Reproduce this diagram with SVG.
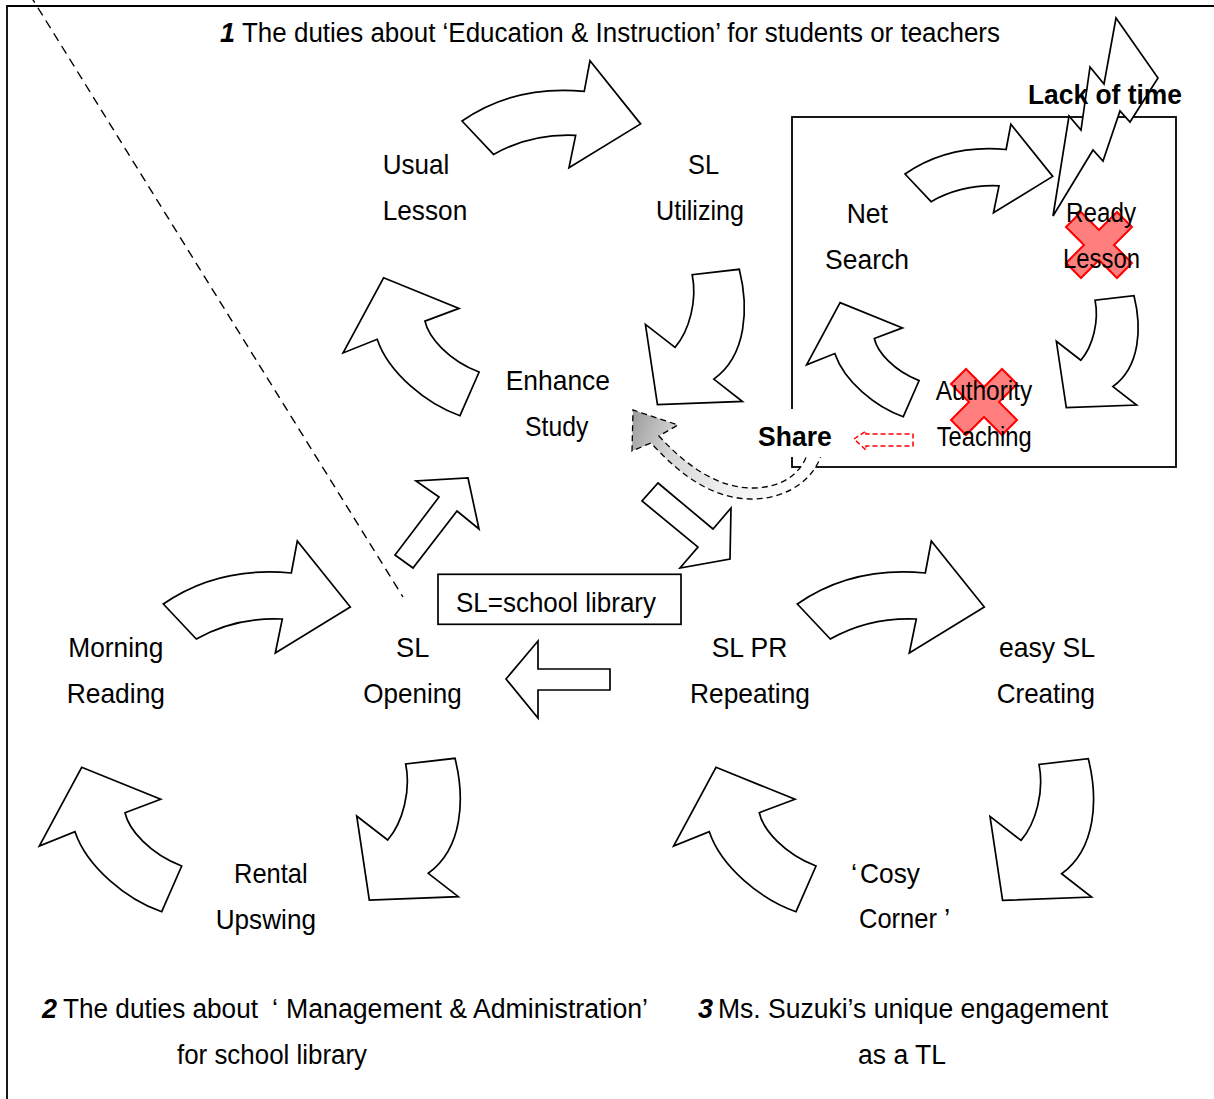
<svg xmlns="http://www.w3.org/2000/svg" width="1214" height="1099" viewBox="0 0 1214 1099">
  <style>
    text { font-family: "Liberation Sans", Arial, sans-serif; font-size: 28px; fill: #000; }
    .sm { font-size: 27px; }
    .b { font-weight: bold; }
    .bi { font-weight: bold; font-style: italic; }
    .arrow { fill: #fff; stroke: #000; stroke-width: 1.7; stroke-linejoin: miter; vector-effect: non-scaling-stroke; }
    .block { fill: #fff; stroke: #000; stroke-width: 1.7; stroke-linejoin: miter; }
    .cross { fill: #ff0000; fill-opacity: 0.5; stroke: #ff0000; stroke-width: 2; }
  </style>
  <defs>
    <!-- curved block arrow, top of each cycle, pointing right -->
    <path id="arcRight" class="arrow" d="M0,0 Q55,-38 128,-31 L134,-63 L187,3 L112,49 L119,15 Q72,13 33,35 Z"/>
    <!-- curved block arrow, right of each cycle, pointing down-left -->
    <path id="arcDown" class="arrow" d="M0,0 C10,40 8,90 -26.7,115 L3.3,138.4 L-85.7,141.7 L-98.3,57.7 L-67.3,81.7 C-52,64 -44,32 -49.3,5.7 Z"/>
    <!-- curved block arrow, left of each cycle, pointing up-left -->
    <path id="arcUp" class="arrow" d="M0,0 C-35,-12 -75,-45 -86.7,-80 L-122.4,-65.7 L-80,-144.4 L-1,-112.4 L-36.7,-99 C-33,-82 -12,-58 20,-45.7 Z"/>
    <!-- red cancel mark -->
    <polygon id="cross" class="cross" points="0,-15 18,-33 33,-18 15,0 33,18 18,33 0,15 -18,33 -33,18 -15,0 -33,-18 -18,-33"/>
    <linearGradient id="shareFill" gradientUnits="userSpaceOnUse" x1="635" y1="415" x2="805" y2="480">
      <stop offset="0" stop-color="#a0a0a0"/>
      <stop offset="0.25" stop-color="#d6d6d6"/>
      <stop offset="0.6" stop-color="#efefef"/>
      <stop offset="1" stop-color="#ffffff"/>
    </linearGradient>
  </defs>

  <rect width="1214" height="1099" fill="#fff"/>

  <!-- page frame and separating diagonal -->
  <g id="frame" fill="none" stroke="#000">
    <line x1="7" y1="6" x2="1214" y2="6" stroke-width="1.8"/>
    <line x1="7" y1="5" x2="7" y2="1099" stroke-width="1.8"/>
    <line x1="30" y1="-5" x2="403" y2="597" stroke-width="1.4" stroke-dasharray="9 6"/>
  </g>

  <!-- sub-cycle box -->
  <rect id="subcycle-box" x="792" y="117" width="384" height="350" fill="none" stroke="#000" stroke-width="1.8"/>

  <g id="connectors">
    <!-- cycle 1 -->
    <use href="#arcRight" transform="translate(462,121) scale(0.955)"/>
    <use href="#arcDown" transform="translate(739.3,269.3) scale(0.955)"/>
    <use href="#arcUp" transform="translate(460,415.7) scale(0.955)"/>
    <!-- inner cycle in the box -->
    <use href="#arcRight" transform="translate(905,174) scale(0.79)"/>
    <use href="#arcDown" transform="translate(1134,295.7) scale(0.79)"/>
    <use href="#arcUp" transform="translate(903.3,416.7) scale(0.79)"/>
    <!-- cycle 2 -->
    <use href="#arcRight" transform="translate(163.3,604)"/>
    <use href="#arcDown" transform="translate(455,758.3)"/>
    <use href="#arcUp" transform="translate(161.7,911.7)"/>
    <!-- cycle 3 -->
    <use href="#arcRight" transform="translate(797.3,604)"/>
    <use href="#arcDown" transform="translate(1088.3,758.7)"/>
    <use href="#arcUp" transform="translate(796,911.7)"/>
    <!-- straight block arrows between the cycles -->
    <polygon class="block" points="468,478 479,529 457,511 413,568 395,555 439,497 416,481"/>
    <polygon class="block" points="658,483 713,529 731,508 730,559 680,568 698,547 642,501"/>
    <polygon class="block" points="506,679 538,641 538,669 610,669 610,690 538,690 538,718"/>
    <!-- dashed share arrow back to Enhance Study -->
    <path d="M822,452 C815,480 785,500 750,499 C715,498 685,480 651,443 L632,451 L633,410 L678,425 L659,436 C688,468 720,488 752,488 C780,488 800,475 807,455 Z" fill="url(#shareFill)" stroke="#000" stroke-width="1.3" stroke-dasharray="6 4"/>
    <!-- small red dashed arrow -->
    <path d="M854,439 L866,431 L866,434 L913,434 L913,446 L866,446 L866,450 Z" fill="#fff" stroke="#ff0000" stroke-width="1.5" stroke-dasharray="5 3"/>
  </g>

  <!-- lightning bolt -->
  <g id="lack-of-time">
    <polygon points="1116,18 1158,78 1130,122 1120,111 1103,161 1093,150 1053,216 1069,116 1081,130 1090,67 1104,84" fill="#fff" stroke="#000" stroke-width="1.7"/>
    <text class="b sm" x="1028" y="104" textLength="154" lengthAdjust="spacingAndGlyphs">Lack of time</text>
  </g>

  <!-- cancel marks -->
  <use href="#cross" transform="translate(1099,245)"/>
  <use href="#cross" transform="translate(984,402)"/>

  <g id="title-1">
    <text class="bi sm" x="220" y="42">1</text>
    <text class="sm" x="242" y="42" textLength="758" lengthAdjust="spacingAndGlyphs">The duties about ‘Education &amp; Instruction’ for students or teachers</text>
  </g>

  <g id="node-usual-lesson">
    <text x="382.7" y="174" textLength="66.6" lengthAdjust="spacingAndGlyphs">Usual</text>
    <text x="382.7" y="220" textLength="84.6" lengthAdjust="spacingAndGlyphs">Lesson</text>
  </g>
  <g id="node-sl-utilizing">
    <text x="688" y="174" textLength="31" lengthAdjust="spacingAndGlyphs">SL</text>
    <text x="656" y="220" textLength="88" lengthAdjust="spacingAndGlyphs">Utilizing</text>
  </g>
  <g id="node-enhance-study">
    <text x="505.7" y="389.5" textLength="104.3" lengthAdjust="spacingAndGlyphs">Enhance</text>
    <text x="525" y="436" textLength="63.3" lengthAdjust="spacingAndGlyphs">Study</text>
  </g>

  <g id="node-net-search">
    <text class="sm" x="846.7" y="222.7" textLength="41.3" lengthAdjust="spacingAndGlyphs">Net</text>
    <text class="sm" x="825" y="269" textLength="84" lengthAdjust="spacingAndGlyphs">Search</text>
  </g>
  <g id="node-ready-lesson">
    <text class="sm" x="1066" y="222" textLength="70" lengthAdjust="spacingAndGlyphs">Ready</text>
    <text class="sm" x="1063" y="268" textLength="77" lengthAdjust="spacingAndGlyphs">Lesson</text>
  </g>
  <g id="node-authority-teaching">
    <text class="sm" x="935.7" y="400" textLength="96.6" lengthAdjust="spacingAndGlyphs">Authority</text>
    <text class="sm" x="936.7" y="445.7" textLength="95" lengthAdjust="spacingAndGlyphs">Teaching</text>
  </g>
  <g id="node-share">
    <rect x="750" y="409" width="86" height="48" fill="#fff"/>
    <text class="b sm" x="758" y="445.7" textLength="73.7" lengthAdjust="spacingAndGlyphs">Share</text>
  </g>

  <g id="legend">
    <rect x="438" y="574.3" width="243" height="50" fill="#fff" stroke="#000" stroke-width="1.7"/>
    <text x="456" y="612.3" textLength="200" lengthAdjust="spacingAndGlyphs">SL=school library</text>
  </g>

  <g id="node-morning-reading">
    <text x="68.3" y="657.3" textLength="95" lengthAdjust="spacingAndGlyphs">Morning</text>
    <text x="66.7" y="703.3" textLength="98.3" lengthAdjust="spacingAndGlyphs">Reading</text>
  </g>
  <g id="node-sl-opening">
    <text x="396" y="657" textLength="33.3" lengthAdjust="spacingAndGlyphs">SL</text>
    <text x="363.3" y="702.5" textLength="98.4" lengthAdjust="spacingAndGlyphs">Opening</text>
  </g>
  <g id="node-rental-upswing">
    <text x="234" y="882.7" textLength="73.7" lengthAdjust="spacingAndGlyphs">Rental</text>
    <text x="215.7" y="929.3" textLength="100.3" lengthAdjust="spacingAndGlyphs">Upswing</text>
  </g>

  <g id="node-sl-pr-repeating">
    <text x="711.7" y="656.7" textLength="75.6" lengthAdjust="spacingAndGlyphs">SL PR</text>
    <text x="690" y="702.7" textLength="120" lengthAdjust="spacingAndGlyphs">Repeating</text>
  </g>
  <g id="node-easy-sl-creating">
    <text x="999" y="657" textLength="96" lengthAdjust="spacingAndGlyphs">easy SL</text>
    <text x="996.7" y="703" textLength="98.3" lengthAdjust="spacingAndGlyphs">Creating</text>
  </g>
  <g id="node-cosy-corner">
    <text x="851" y="882.7">‘</text>
    <text x="860" y="882.7" textLength="60" lengthAdjust="spacingAndGlyphs">Cosy</text>
    <text x="859" y="928.3" textLength="78" lengthAdjust="spacingAndGlyphs">Corner</text>
    <text x="944" y="928.3">’</text>
  </g>

  <g id="title-2">
    <text class="bi sm" x="42" y="1018">2</text>
    <text class="sm" x="63" y="1018" textLength="195" lengthAdjust="spacingAndGlyphs">The duties about</text>
    <text class="sm" x="272" y="1018">‘</text>
    <text class="sm" x="286" y="1018" textLength="362" lengthAdjust="spacingAndGlyphs">Management &amp; Administration’</text>
    <text class="sm" x="177" y="1064" textLength="190" lengthAdjust="spacingAndGlyphs">for school library</text>
  </g>
  <g id="title-3">
    <text class="bi sm" x="698" y="1018">3</text>
    <text class="sm" x="718" y="1018" textLength="390" lengthAdjust="spacingAndGlyphs">Ms. Suzuki’s unique engagement</text>
    <text class="sm" x="858" y="1064" textLength="88" lengthAdjust="spacingAndGlyphs">as a TL</text>
  </g>
</svg>
